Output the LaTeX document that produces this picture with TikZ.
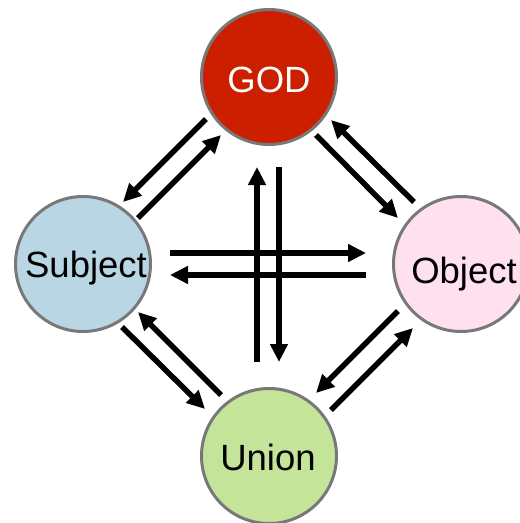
\documentclass[tikz,border=0pt]{standalone}
\usepackage{fontspec}
\setmainfont{Liberation Sans}
\usetikzlibrary{arrows.meta}
\definecolor{godred}{RGB}{204,31,0}
\definecolor{subjblue}{RGB}{185,214,228}
\definecolor{objpink}{RGB}{255,224,239}
\definecolor{unigreen}{RGB}{196,228,153}
\definecolor{rimgray}{RGB}{120,120,120}
\tikzset{
  ball/.style={circle, draw=rimgray, line width=3pt, minimum size=135pt, inner sep=0pt},
  word/.style={anchor=base, inner sep=0pt, font=\fontsize{36.5}{40}\selectfont},
  arr/.style={line width=5.5pt, -{Triangle[length=18pt,width=17pt]}}
}
\begin{document}
\begin{tikzpicture}[x=1pt,y=-1pt]
\useasboundingbox (0,0) rectangle (520,523);
\node[ball, fill=godred] (god) at (269,77) {};
\node[ball, fill=subjblue] (sub) at (83,264) {};
\node[ball, fill=objpink] (obj) at (461,264) {};
\node[ball, fill=unigreen] (uni) at (269,456) {};
\node[word, text=white] (godt) at (269,92) {GOD};
\node[word] (subt) at (86,277) {Subject};
\node[word] (objt) at (464,283) {Object};
\node[word] (unit) at (268,470) {Union};
% end points
\coordinate (gs1) at (206,119); \coordinate (sg1) at (123,202);
\coordinate (sg2) at (138,218); \coordinate (gs2) at (221,135);
\coordinate (go1) at (316,135); \coordinate (og1) at (398,218);
\coordinate (og2) at (414,202); \coordinate (go2) at (331,120);
\coordinate (su1) at (122,327); \coordinate (us1) at (205,409);
\coordinate (us2) at (221,395); \coordinate (su2) at (138,312);
\coordinate (ou1) at (398,311); \coordinate (uo1) at (316,393);
\coordinate (uo2) at (331,410); \coordinate (ou2) at (413,328);
\coordinate (so1) at (170,253); \coordinate (os1) at (366,253);
\coordinate (os2) at (366,275); \coordinate (so2) at (170,275);
\coordinate (ug1) at (257,362); \coordinate (gu1) at (257,167);
\coordinate (gu2) at (279,167); \coordinate (ug2) at (279,362);
\draw[arr] (gs1) -- (sg1);
\draw[arr] (sg2) -- (gs2);
\draw[arr] (go1) -- (og1);
\draw[arr] (og2) -- (go2);
\draw[arr] (su1) -- (us1);
\draw[arr] (us2) -- (su2);
\draw[arr] (ou1) -- (uo1);
\draw[arr] (uo2) -- (ou2);
\draw[arr] (so1) -- (os1);
\draw[arr] (os2) -- (so2);
\draw[arr] (ug1) -- (gu1);
\draw[arr] (gu2) -- (ug2);
\end{tikzpicture}
\end{document}
